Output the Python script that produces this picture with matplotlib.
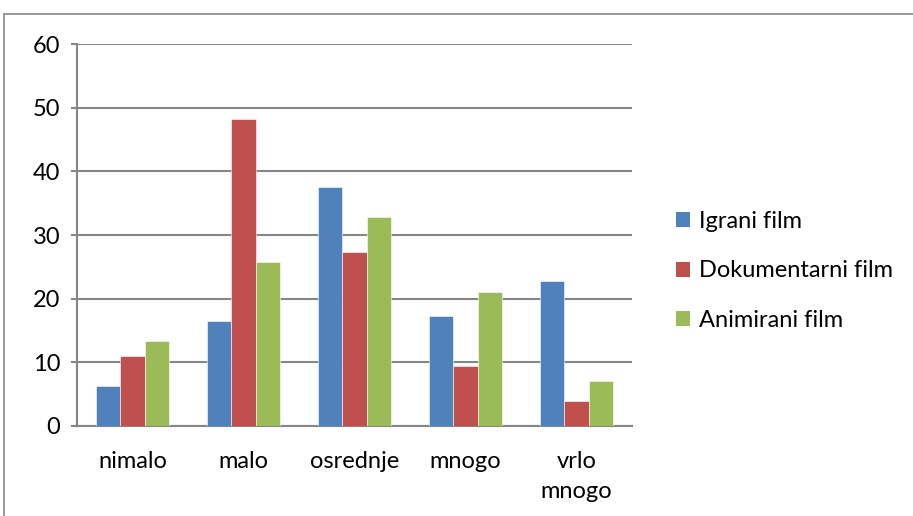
import matplotlib.pyplot as plt
import numpy as np
from matplotlib.patches import Rectangle, Patch

# data
kategorije = ["nimalo", "malo", "osrednje", "mnogo", "vrlo\nmnogo"]
igrani = [6.3, 16.4, 37.5, 17.2, 22.7]
dokumentarni = [10.9, 48.3, 27.3, 9.4, 3.9]
animirani = [13.3, 25.8, 32.8, 21.1, 7.1]
serije = ["Igrani film", "Dokumentarni film", "Animirani film"]
boje = ["#4F81BD", "#C0504D", "#9BBB59"]

plt.rcParams['font.family'] = ['Lato', 'DejaVu Sans']

fig = plt.figure(figsize=(9.13, 5.16), dpi=100)
ax = fig.add_axes([77 / 913, 1 - 425.7 / 516, (632 - 77) / 913, (425.7 - 44.3) / 516])

x = np.arange(len(kategorije))
w = 0.22
for i, (vals, boja) in enumerate(zip([igrani, dokumentarni, animirani], boje)):
    ax.bar(x + (i - 1) * w, vals, w, color=boja, edgecolor='white', linewidth=0.4, zorder=3)

ax.set_xlim(-0.5, len(kategorije) - 0.5)
ax.set_ylim(0, 60)
ax.set_yticks(range(0, 61, 10))
ax.set_xticks(x)
ax.set_xticklabels(kategorije, fontsize=17, linespacing=1.55, va='top')
ax.tick_params(axis='y', labelsize=17, length=4, color='#868686', width=1.5, pad=8)
ax.tick_params(axis='x', length=0, pad=18)

ax.yaxis.grid(True, color='#868686', linewidth=1.5, zorder=0)
for s in ['top', 'right']:
    ax.spines[s].set_visible(False)
for s in ['left', 'bottom']:
    ax.spines[s].set_color('#868686')
    ax.spines[s].set_linewidth(1.5)

# outer chart frame
fig.patches.append(Rectangle((4 / 913, -0.1), 1.2, 1 - 14 / 516 + 0.1, transform=fig.transFigure,
                             fill=False, edgecolor='#888888', linewidth=1.2))

handles = [Patch(facecolor=b, edgecolor='none') for b in boje]
fig.legend(handles, serije, loc='center left', bbox_to_anchor=(655 / 913, 1 - 271 / 516),
           frameon=False, fontsize=17, handlelength=0.6, handleheight=0.6,
           handletextpad=0.38, labelspacing=1.2)

plt.savefig("out.png", dpi=100)
